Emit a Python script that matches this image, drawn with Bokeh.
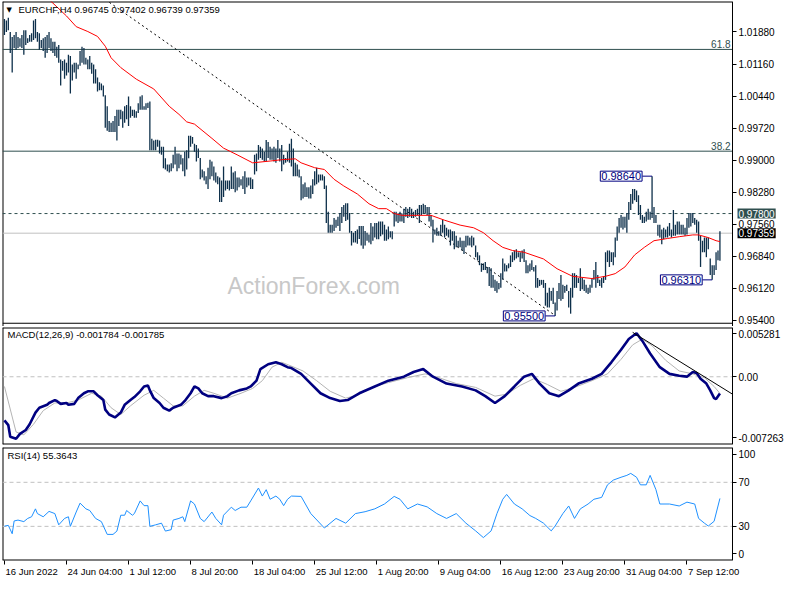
import numpy as np
from bokeh.plotting import figure
from bokeh.layouts import column
from bokeh.models import Range1d, FixedTicker, Label, LinearAxis, PrintfTickFormatter
from bokeh.core.properties import value
from bokeh.embed import file_html
from bokeh.resources import INLINE

# ---------------- data ----------------
symbol_title = "EURCHF,H4"
last_ohlc = ["0.96745", "0.97402", "0.96739", "0.97359"]

# bar highs / lows in 1/10000 CHF (one value per H4 bar)
high_pips = [
    10217, 10214, 10220, 10188, 10177, 10181, 10188, 10177, 10174, 10181,
    10192, 10192, 10174, 10181, 10185, 10214, 10217, 10188, 10185, 10170,
    10174, 10177, 10181, 10188, 10174, 10166, 10166, 10155, 10159, 10126,
    10123, 10126, 10119, 10137, 10134, 10115, 10119, 10119, 10115, 10145,
    10155, 10152, 10130, 10126, 10134, 10119, 10115, 10104, 10086, 10075,
    10072, 10068, 10046, 10021, 9988, 9984, 9988, 9999, 10013, 10013,
    10013, 10010, 10021, 10024, 10043, 10021, 10013, 10013, 10010, 10028,
    10043, 10046, 10021, 10028, 10029, 10032, 9948, 9944, 9946, 9946,
    9944, 9930, 9930, 9904, 9890, 9890, 9893, 9912, 9930, 9915,
    9915, 9912, 9904, 9919, 9922, 9955, 9955, 9952, 9937,
    9934, 9926, 9905, 9879, 9875, 9864, 9883, 9901, 9897, 9886,
    9872, 9864, 9861, 9854, 9886, 9854, 9854, 9854, 9886, 9872,
    9875, 9861, 9861, 9857, 9864, 9875, 9861, 9861, 9861, 9857,
    9912, 9915, 9934, 9930, 9926, 9919, 9945, 9941, 9930, 9926,
    9930, 9926, 9945, 9926, 9934, 9912, 9905, 9919, 9937, 9948,
    9926, 9894, 9890, 9879, 9864, 9846, 9850, 9839, 9839, 9843,
    9857, 9875, 9883, 9868, 9868, 9868, 9864, 9843, 9784, 9755,
    9755, 9770, 9766, 9773, 9781, 9795, 9799, 9803, 9803, 9781,
    9741, 9737, 9741, 9744, 9752, 9752, 9752, 9741, 9737, 9733,
    9759, 9751, 9759, 9759, 9762, 9762, 9762, 9755, 9744, 9751,
    9740, 9740, 9784, 9784, 9780, 9784, 9780, 9791, 9795, 9791,
    9795, 9791, 9784, 9788, 9791, 9799, 9799, 9802, 9799, 9795,
    9795, 9777, 9766, 9744, 9748, 9740, 9755, 9766, 9755, 9748,
    9744, 9744, 9740, 9740, 9730, 9719, 9726, 9719, 9719, 9730,
    9730, 9726, 9730, 9726, 9708, 9693, 9686, 9668, 9668, 9671,
    9660,
    9660, 9657, 9642, 9631, 9628, 9624, 9646, 9679, 9668, 9664,
    9668, 9686, 9693, 9697, 9700, 9693, 9693, 9697, 9700, 9675,
    9664, 9668, 9675, 9660, 9664, 9635, 9631, 9631, 9631, 9624,
    9602, 9613, 9606, 9613, 9580, 9606, 9624, 9642, 9620, 9617,
    9620, 9606, 9613, 9646, 9646, 9642, 9635, 9657, 9635, 9631,
    9620, 9613, 9620, 9635, 9653, 9671, 9642, 9631, 9635, 9639,
    9693, 9697, 9697, 9693, 9693, 9726, 9751, 9770, 9777, 9773,
    9773, 9781, 9806, 9824, 9835, 9835, 9832, 9821, 9799, 9777,
    9773, 9784, 9791, 9784, 9864, 9795, 9777, 9755, 9755, 9744,
    9748, 9744, 9751, 9759, 9744, 9788, 9755, 9762, 9762, 9755,
    9755, 9748, 9770, 9781, 9781, 9781, 9770, 9766, 9762, 9730,
    9719, 9726, 9726, 9726, 9679, 9664, 9664, 9693, 9697, 9740,
]
low_pips = [
    10181, 10188, 10192, 10141, 10097, 10152, 10148, 10152, 10155, 10152,
    10137, 10159, 10163, 10166, 10166, 10170, 10174, 10166, 10148, 10152,
    10145, 10130, 10141, 10152, 10145, 10141, 10134, 10130, 10119, 10068,
    10101, 10083, 10090, 10097, 10050, 10079, 10097, 10083, 10104, 10112,
    10119, 10115, 10115, 10104, 10104, 10094, 10072, 10072, 10054, 10057,
    10057, 10043, 9973, 9966, 9963, 9963, 9963, 9963, 9944, 9977,
    9992, 9973, 9984, 9992, 9977, 9995, 9999, 9995, 9995, 10006,
    10013, 10013, 10013, 10013, 10017, 9922, 9922, 9922, 9922, 9930,
    9915, 9912, 9882, 9879, 9875, 9872, 9875, 9882, 9890, 9875,
    9882, 9890, 9875, 9864, 9879, 9904, 9930, 9937, 9919,
    9897, 9905, 9857, 9861, 9854, 9846, 9835, 9857, 9864, 9854,
    9850, 9846, 9806, 9806, 9817, 9832, 9835, 9832, 9835, 9835,
    9828, 9832, 9839, 9843, 9835, 9824, 9839, 9843, 9835, 9835,
    9868, 9875, 9901, 9905, 9901, 9897, 9897, 9905, 9901, 9901,
    9897, 9894, 9905, 9897, 9875, 9890, 9894, 9897, 9894, 9886,
    9864, 9864, 9864, 9861, 9810, 9814, 9817, 9817, 9814, 9814,
    9824, 9843, 9846, 9850, 9854, 9854, 9835, 9759, 9737, 9737,
    9737, 9741, 9748, 9752, 9741, 9759, 9773, 9763, 9766, 9737,
    9708, 9715, 9715, 9712, 9723, 9708, 9701, 9708, 9719, 9715,
    9711, 9719, 9726, 9722, 9722, 9729, 9733, 9719, 9719, 9722,
    9726, 9722, 9751, 9762, 9759, 9762, 9762, 9759, 9773, 9770,
    9773, 9770, 9770, 9773, 9777, 9759, 9777, 9780, 9780, 9777,
    9762, 9751, 9715, 9733, 9730, 9730, 9730, 9737, 9726, 9730,
    9726, 9708, 9719, 9700, 9704, 9704, 9704, 9697, 9689, 9704,
    9708, 9708, 9704, 9708, 9682, 9675, 9664, 9649, 9653, 9653,
    9646,
    9617, 9613, 9613, 9606, 9602, 9610, 9613, 9631, 9650, 9650,
    9657, 9660, 9671, 9675, 9679, 9682, 9671, 9679, 9671, 9646,
    9646, 9650, 9653, 9650, 9613, 9613, 9617, 9620, 9613, 9573,
    9569, 9569, 9584, 9577, 9550, 9562, 9588, 9584, 9588, 9602,
    9606, 9569, 9555, 9591, 9613, 9613, 9624, 9606, 9610, 9606,
    9602, 9599, 9602, 9613, 9631, 9613, 9624, 9617, 9613, 9624,
    9631, 9671, 9660, 9671, 9664, 9682, 9719, 9737, 9748, 9744,
    9748, 9737, 9766, 9788, 9802, 9810, 9806, 9777, 9766, 9759,
    9759, 9762, 9766, 9766, 9770, 9759, 9759, 9730, 9726, 9711,
    9722, 9726, 9726, 9730, 9726, 9730, 9730, 9733, 9733, 9733,
    9733, 9730, 9733, 9748, 9751, 9759, 9755, 9737, 9719, 9660,
    9693, 9693, 9682, 9700, 9642, 9631, 9642, 9653, 9675, 9674,
]

# red moving average, read at sampled bars (1/10000 CHF)
ma_idx = [23, 32, 37, 43, 48, 52, 55, 60, 68, 77, 85, 90, 94, 98, 107, 113, 120, 128, 137, 143,
          150, 153, 160, 165, 170, 175, 182, 188, 193, 197, 201, 205, 220, 227, 235, 242, 247, 252, 257, 262,
          268, 278, 285, 293, 303, 310, 315, 320, 325, 330, 335, 342, 348, 355, 358, 363, 367, 369]
ma_pips = [10261, 10224, 10200, 10189, 10178, 10156, 10130, 10108, 10082, 10060, 10021, 10003, 9986, 9981,
           9949, 9927, 9912, 9894, 9898, 9901, 9903, 9894, 9883, 9879, 9857, 9842, 9824, 9802, 9791, 9791,
           9780, 9776, 9776, 9765, 9754, 9748, 9737, 9719, 9704, 9697, 9693, 9678, 9656, 9639, 9634, 9639,
           9645, 9660, 9687, 9704, 9719, 9724, 9728, 9732, 9732, 9726, 9719, 9717]

# MACD main line and signal line (units of 1e-4)
macd_idx = [0, 2, 3, 6, 8, 11, 13, 16, 18, 22, 23, 26, 27, 29, 32, 33, 36, 38, 41, 43,
            46, 48, 51, 52, 54, 57, 60, 62, 65, 67, 70, 72, 74, 75, 77, 80, 82, 85, 87, 91,
            93, 96, 98, 100, 102, 105, 108, 112, 115, 117, 121, 125, 127, 130, 132, 136, 140, 143, 146, 148,
            153, 158, 163, 168, 173, 177, 183, 191, 198, 206, 211, 216, 221, 228, 236, 243, 248, 253, 258, 263,
            268, 272, 276, 281, 286, 291, 296, 303, 308, 313, 318, 322, 326, 329, 333, 338, 343, 348, 352, 355,
            357, 359, 362, 364, 366, 367, 369]
macd_e4 = [-46.7, -51.9, -64.4, -66.4, -61.2, -57.1, -50.9, -38.4, -33.2, -30.1,
           -28.1, -25.0, -26.0, -29.1, -28.1, -30.1, -29.1, -22.9, -17.7, -15.6,
           -15.6, -19.8, -25.0, -35.3, -40.5, -43.6, -38.4, -30.1, -25.0, -21.8,
           -15.6, -10.4, -9.4, -14.6, -22.9, -28.1, -33.2, -36.3, -33.2, -30.1,
           -25.9, -17.7, -10.4, -12.5, -17.7, -20.8, -20.8, -22.9, -20.8, -17.7,
           -14.6, -12.5, -10.4, -4.2, 8.2, 13.4, 15.5, 13.4, 10.3, 9.3,
           3.1, -7.3, -17.7, -22.9, -26.0, -25.0, -17.7, -10.4, -4.2, 0.1,
           5.1, 8.2, 0.1, -7.3, -10.4, -14.6, -20.8, -28.1, -20.8, -10.4,
           0.1, 3.1, -7.3, -17.7, -20.8, -14.6, -7.3, -2.1, 3.1, 15.5,
           29.0, 40.4, 46.6, 38.4, 24.9, 10.3, 3.1, 1.0, 0.1, 5.1,
           4.1, -2.1, -7.3, -14.6, -22.9, -23.9, -17.84]
signal_idx = [0, 6, 10, 15, 20, 26, 32, 38, 45, 50, 55, 60, 65, 72, 77, 82, 87, 92, 98, 103,
              108, 115, 122, 128, 133, 138, 143, 148, 154, 161, 168, 176, 182, 191, 198, 208, 217, 224, 233, 243,
              253, 259, 266, 273, 280, 287, 294, 303, 311, 318, 324, 329, 334, 341, 348, 355, 361, 366, 369]
signal_e4 = [-10.4, -59.2, -62.3, -50.9, -36.3, -28.1, -28.1, -25.0, -17.7, -20.8,
             -33.2, -40.5, -31.2, -19.8, -14.6, -22.9, -31.2, -31.2, -20.8, -14.6,
             -17.7, -22.9, -17.7, -12.5, -4.2, 10.3, 15.5, 11.4, 6.2, -4.2,
             -15.6, -22.9, -19.8, -10.4, -6.3, -0.9, 3.1, -1.0, -7.3, -11.4,
             -20.8, -18.7, -9.3, -2.1, -8.3, -15.6, -11.4, -4.2, 3.1, 18.7,
             34.2, 40.4, 33.2, 17.7, 6.2, 3.1, -1.0, -10.4, -17.85]
macd_range = [-0.007263, 0.005281]
macd_trend_idx = [324, 375.5]
macd_trend_e4 = [47.6, -18.7]

# RSI(14)
rsi_idx = [0, 2, 4, 5, 7, 10, 12, 14, 16, 17, 20, 23, 26, 28, 31, 33, 34, 37, 39, 42,
           44, 47, 50, 53, 56, 58, 60, 62, 63, 66, 67, 70, 72, 74, 75, 78, 81, 83, 86, 87,
           90, 92, 93, 96, 98, 101, 103, 107, 109, 112, 113, 117, 119, 122, 125, 127, 131, 133, 135, 137,
           140, 142, 144, 146, 148,
           153, 158, 165, 171, 176, 181, 186, 191, 196, 201, 204, 208, 213, 218, 223, 228, 233, 238, 243, 247,
           251, 254, 257, 259, 263, 267, 271, 274, 278, 282, 284, 288, 291, 294, 297, 301, 304, 308, 311, 314,
           318, 321, 323, 326, 328, 331, 333, 336, 338, 343, 348, 352, 356, 358, 361, 363, 366, 369]
rsi_vals = [30.2, 30.9, 23.3, 34.9, 35.7, 34.3, 37.2, 38.7, 45.9, 41.6, 38.7, 43.6, 41.6, 31.4, 37.2, 38.7,
            30.0, 43.0, 51.1, 45.9, 44.4, 37.2, 34.3, 22.7, 22.7, 25.7, 40.1, 40.1, 44.4, 40.1, 41.6, 53.1,
            48.8, 48.8, 30.0, 31.4, 32.9, 25.7, 27.0, 35.7, 37.2, 38.7, 34.3, 53.1, 50.3, 37.2, 34.3, 43.0,
            37.2, 31.4, 40.1, 47.4, 44.4, 47.4, 47.4, 53.1, 64.8, 57.5, 63.3, 54.6, 57.5, 54.6, 48.8, 54.6, 57.5,
            57.2, 41.6, 28.5, 37.2, 32.9, 41.6, 43.3, 45.9, 50.3, 57.2, 54.6, 45.9, 50.3, 47.7, 41.6, 37.2,
            41.6, 32.9, 25.9, 19.8,
            25.9, 41.6, 54.6, 59.0, 50.3, 45.9, 39.8, 37.2, 32.9, 25.9, 30.3, 41.6, 48.5, 37.2, 45.9, 50.3,
            54.6, 56.3, 67.7, 72.0,
            74.6, 76.3, 78.1, 74.6, 67.7, 67.7, 76.3, 63.3, 50.3, 50.3, 48.5, 52.0, 50.3, 37.2, 32.9, 30.3,
            34.6, 55.3643]
rsi_levels = [70, 30]

# horizontal levels
fib_low, fib_high = 0.9550, 1.0519
fib_pcts = [38.2, 61.8]
resistance = 0.9780
bid = 0.97359
trend_main_idx = [52, 284]
trend_main_price = [1.0261, 0.9551]

price_ticks = [0.95400, 0.96120, 0.96840, 0.97560, 0.98280, 0.99000, 0.99720, 1.00440, 1.01160, 1.01880]
x_tick_idx = [0, 32, 64, 96, 128, 160, 192, 224, 256, 288, 320, 352]
x_tick_labels = ["16 Jun 2022", "24 Jun 04:00", "1 Jul 12:00", "8 Jul 20:00", "18 Jul 04:00",
                 "25 Jul 12:00", "1 Aug 20:00", "9 Aug 04:00", "16 Aug 12:00", "23 Aug 20:00",
                 "31 Aug 04:00", "7 Sep 12:00"]

# ---------------- drawing ----------------
BAR = "#0d2f4a"
SLATE = "#2f4f4f"
NAVY = "#000080"
FONT = "Liberation Sans"
W = 784
LB, RB = 2, 0
AX = 375.5                      # where the price scale sits (right edge of the bars area)
xr = Range1d(-1, 402.3)

high = np.array(high_pips) / 1e4
low = np.array(low_pips) / 1e4
idx = np.arange(len(high))


def base(height, yr, bottom, top=1, frame_bottom=None):
    p = figure(width=W, height=height, x_range=xr, y_range=yr, output_backend="svg",
               toolbar_location=None, tools="", x_axis_location=None, y_axis_location=None,
               min_border_left=LB, min_border_right=RB, min_border_top=top, min_border_bottom=bottom)
    p.grid.visible = False
    p.outline_line_color = None
    p.background_fill_color = "white"
    p.border_fill_color = "white"
    # panel frame (left, top, bottom); right edge is the price axis line
    p.segment(x0=[xr.start, xr.start], y0=[yr.start, yr.end], x1=[xr.start, AX], y1=[yr.end, yr.end],
              line_color="black", line_width=2)
    if frame_bottom is None:
        p.segment(x0=[xr.start], y0=[yr.start], x1=[AX], y1=[yr.start], line_color="black", line_width=2)
    else:
        p.segment(x0=[xr.start], y0=[frame_bottom], x1=[AX], y1=[frame_bottom],
                  line_color="black", line_width=1.2)
    return p


def price_axis(p, ticks, formatter=None, overrides=None):
    ax = LinearAxis(fixed_location=AX, ticker=FixedTicker(ticks=ticks))
    if formatter is not None:
        ax.formatter = formatter
    if overrides is not None:
        ax.major_label_overrides = overrides
    ax.axis_line_color = "black"
    ax.major_tick_in = 0
    ax.major_tick_out = 4
    ax.major_tick_line_color = "black"
    ax.minor_tick_line_color = None
    ax.major_label_text_font = FONT
    ax.major_label_text_font_size = "10px"
    ax.major_label_text_color = "black"
    ax.major_label_standoff = 2
    p.add_layout(ax, "right")


def hline(p, level, color, dash="solid"):
    p.segment(x0=[xr.start], y0=[level], x1=[AX], y1=[level], line_color=color,
              line_width=1, line_dash=dash)


def header(p, yr, text, dy):
    p.add_layout(Label(x=xr.start, y=yr.end, x_offset=5, y_offset=dy, text=text,
                       text_font=FONT, text_font_size="9.5px", text_color="black",
                       text_baseline="middle", text_align="left"))


# ---- main price panel
main_bottom = 0.95335
yr1 = Range1d(0.95262, 1.02565)
p1 = base(326, yr1, bottom=0, frame_bottom=main_bottom)
price_axis(p1, price_ticks, formatter=PrintfTickFormatter(format="%.5f"))

p1.add_layout(Label(x=115, y=0.9617, text="ActionForex.com", text_font=FONT,
                    text_font_size="23px", text_color="#c8c8c8", text_baseline="middle"))

for pct in fib_pcts:
    lvl = fib_low + pct / 100 * (fib_high - fib_low)
    hline(p1, lvl, SLATE)
    p1.add_layout(Label(x=AX, y=lvl, x_offset=-2, y_offset=1, text=f"{pct:.1f}",
                        text_font=FONT, text_font_size="10px", text_color=SLATE,
                        text_align="right", text_baseline="bottom"))
hline(p1, resistance, SLATE, "3 3")
hline(p1, bid, "#c0c0c0")

p1.line(trend_main_idx, trend_main_price, line_color="black", line_width=1, line_dash="2 3")
p1.segment(x0=idx, y0=low, x1=idx, y1=high, line_color=BAR, line_width=1.3)
p1.line(ma_idx, np.array(ma_pips) / 1e4, line_color="#ff0000", line_width=1)

# extreme value boxes
i_lo = int(np.argmin(low))
i_hi = 300 + int(np.argmax(high[300:]))
i_lo2 = 350 + int(np.argmin(low[350:]))
for i, v in [(i_hi, high[i_hi]), (i_lo, low[i_lo]), (i_lo2, low[i_lo2])]:
    p1.segment(x0=[i - 5], y0=[v], x1=[i], y1=[v], line_color=NAVY, line_width=1)
    p1.add_layout(Label(x=i, y=v, x_offset=-10, text=f"{v:.5f}", text_font=FONT,
                        text_font_size="11px", text_color=NAVY, text_align="right",
                        text_baseline="middle", background_fill_color="white",
                        border_line_color=NAVY, border_line_width=1, padding=1))

# price boxes on the scale
p1.add_layout(Label(x=AX, y=resistance, x_offset=5, text=f"{resistance:.5f}", text_font=FONT,
                    text_font_size="10px", text_color="white", text_align="left",
                    text_baseline="middle", background_fill_color=SLATE, padding=1))
p1.add_layout(Label(x=AX, y=bid, x_offset=5, text=f"{bid:.5f}", text_font=FONT,
                    text_font_size="10px", text_color="white", text_align="left",
                    text_baseline="middle", background_fill_color="black", padding=1))

p1.add_layout(Label(x=xr.start, y=yr1.end, x_offset=4, y_offset=-8, text="\u25bc",
                    text_font="DejaVu Sans", text_font_size="7px", text_color="black",
                    text_baseline="middle"))
p1.add_layout(Label(x=xr.start, y=yr1.end, x_offset=16, y_offset=-8,
                    text=symbol_title + "  " + " ".join(last_ohlc), text_font=FONT,
                    text_font_size="9.5px", text_color="black", text_baseline="middle"))

# ---- MACD panel
yr2 = Range1d(macd_range[0], macd_range[1])
p2 = base(120, yr2, bottom=2, top=1)
m_ticks = [macd_range[1] - 0.00065, 0.0, macd_range[0] + 0.00072]
price_axis(p2, m_ticks, overrides={m_ticks[0]: f"{macd_range[1]:.6f}", m_ticks[1]: "0.00",
                                   m_ticks[2]: f"{macd_range[0]:.6f}"})
hline(p2, 0.0, "#c0c0c0", "4 3")
p2.line(signal_idx, np.array(signal_e4) / 1e4, line_color="#b4b4b4", line_width=1)
p2.line(macd_idx, np.array(macd_e4) / 1e4, line_color=NAVY, line_width=2.6)
p2.line(macd_trend_idx, np.array(macd_trend_e4) / 1e4, line_color="black", line_width=1)
header(p2, yr2, f"MACD(12,26,9) {macd_e4[-1] / 1e4:.6f} {signal_e4[-1] / 1e4:.6f}", -7)

# ---- RSI panel
yr3 = Range1d(-1, 101.6)
p3 = base(120, yr3, bottom=6, top=1)
r_ticks = [95.5, 70, 30, 5.2]
price_axis(p3, r_ticks, overrides={95.5: "100", 70: "70", 30: "30", 5.2: "0"})
for lv in rsi_levels:
    hline(p3, lv, "#c0c0c0", "4 3")
p3.line(rsi_idx, rsi_vals, line_color="#1e90ff", line_width=1)
header(p3, yr3, f"RSI(14) {rsi_vals[-1]:.4f}", -8)

# time axis: tick marks on the RSI panel, left-aligned date labels underneath
xa = LinearAxis(ticker=FixedTicker(ticks=x_tick_idx),
                major_label_overrides={i: "" for i in x_tick_idx})
xa.axis_line_color = None
xa.major_tick_in = 0
xa.major_tick_out = 4
xa.major_tick_line_color = "black"
xa.minor_tick_line_color = None
xa.major_label_standoff = 0
p3.add_layout(xa, "below")

p4 = figure(width=W, height=18, x_range=xr, y_range=Range1d(0, 18), output_backend="svg",
            toolbar_location=None, tools="", x_axis_location=None, y_axis_location=None,
            min_border_left=LB, min_border_right=RB, min_border_top=0, min_border_bottom=0)
p4.grid.visible = False
p4.outline_line_color = None
p4.border_fill_color = "white"
p4.text(x=x_tick_idx, y=[13] * len(x_tick_idx), text=x_tick_labels, x_offset=1,
        text_align="left", text_baseline="middle", text_font=value(FONT),
        text_font_size=value("9.5px"), text_color="black")

layout = column(p1, p2, p3, p4, spacing=0)
open("out.html", "w").write(file_html(layout, INLINE))
